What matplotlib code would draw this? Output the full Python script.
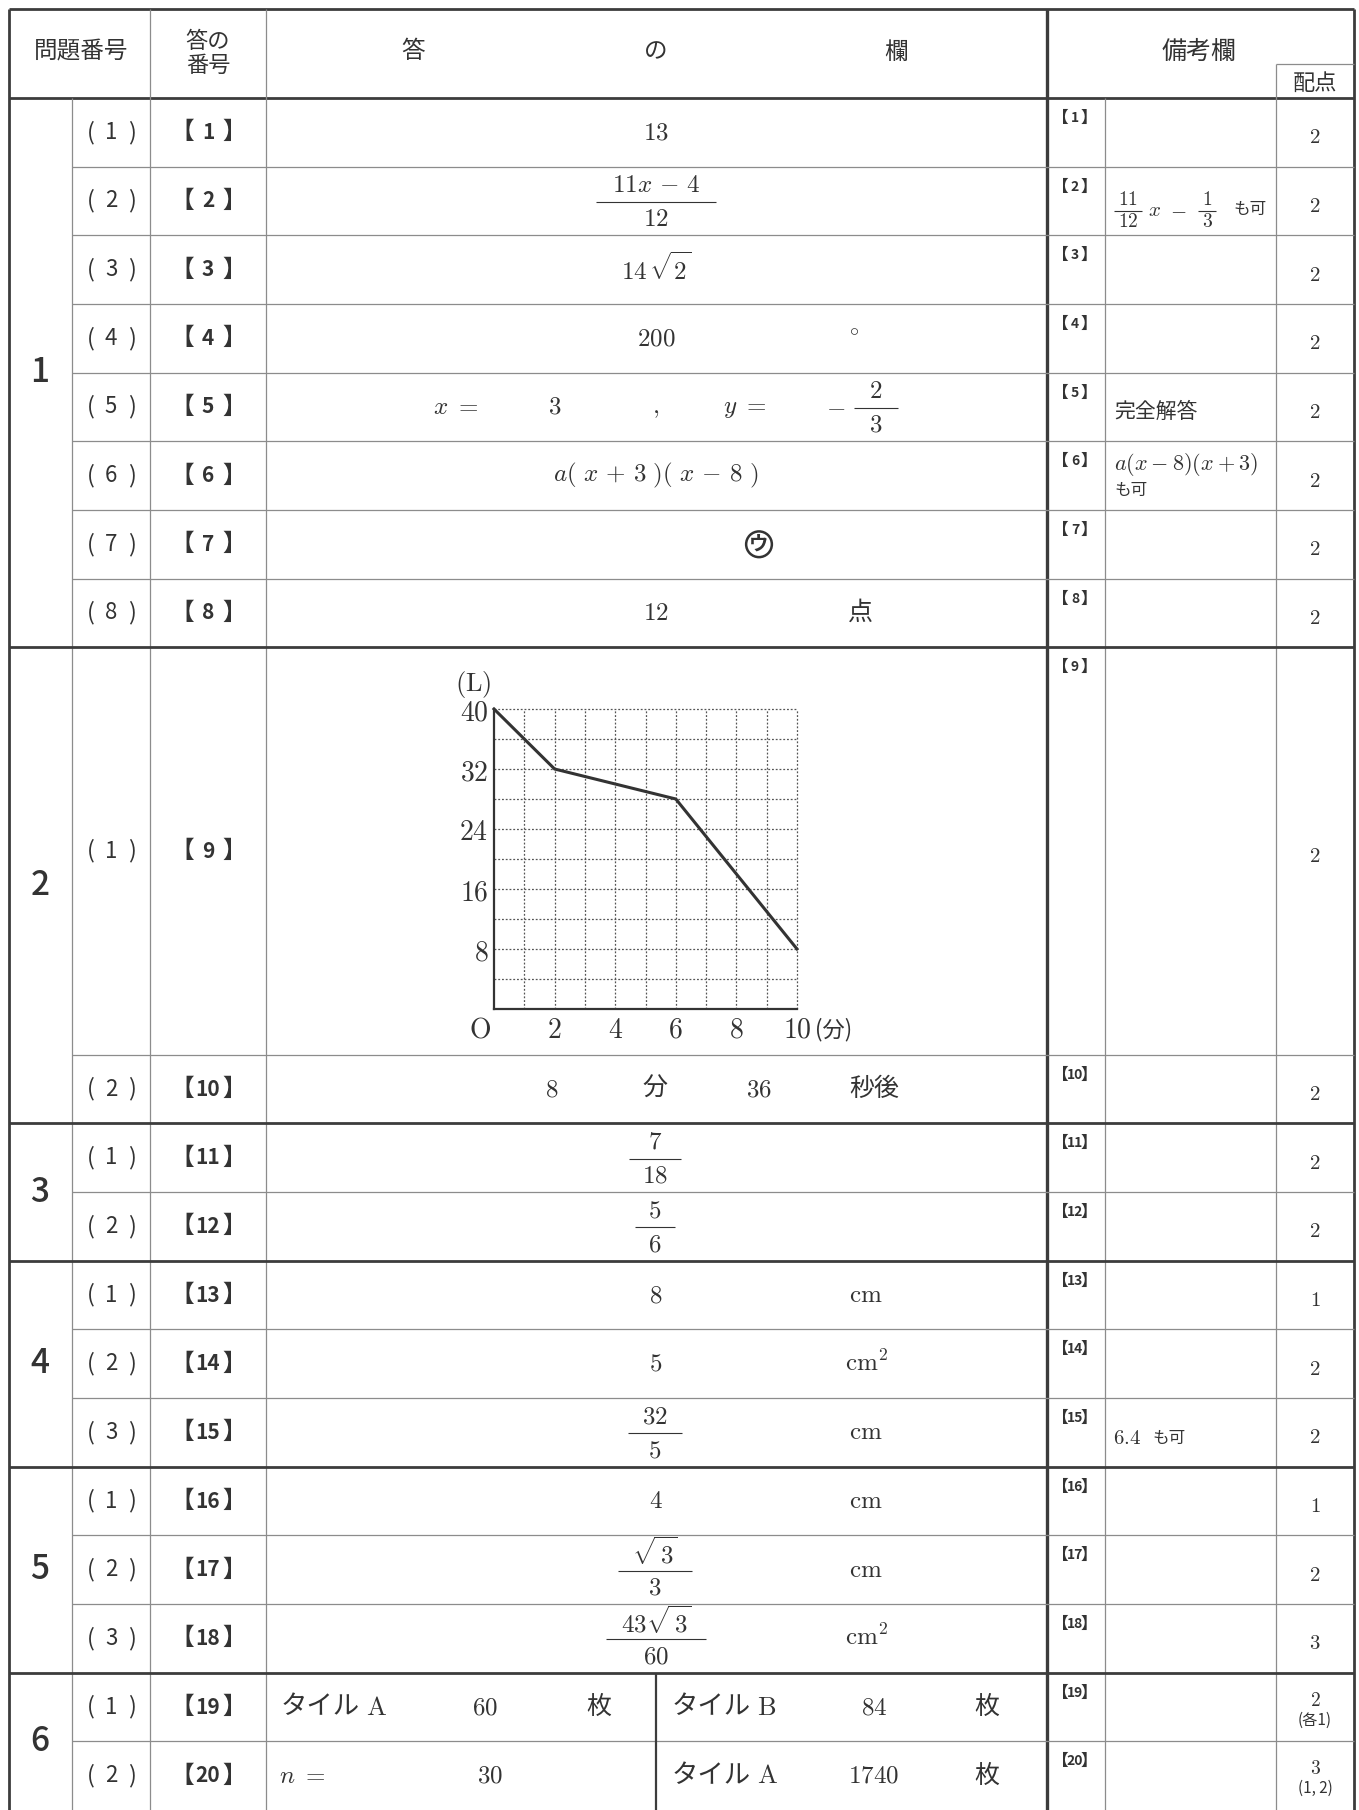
import numpy as np
import matplotlib
matplotlib.use('Agg')
import matplotlib.pyplot as plt

plt.rcParams['font.family'] = ['Noto Sans CJK JP', 'DejaVu Sans']
plt.rcParams['mathtext.fontset'] = 'cm'

W, H = 1359, 1810
INK = '#333333'
THIN = '#8c8c8c'

# ---- data -------------------------------------------------------------
section_names = ['1', '2', '3', '4', '5', '6']
section_rows = [8, 2, 2, 3, 3, 2]
sub_numbers = ['1', '2', '3', '4', '5', '6', '7', '8',
               '1', '2', '1', '2', '1', '2', '3', '1', '2', '3', '1', '2']
answer_ids = [str(i) for i in range(1, 21)]
points = ['2', '2', '2', '2', '2', '2', '2', '2',
          '2', '2', '2', '2', '1', '2', '2', '1', '2', '3', '2', '3']
point_notes = {18: '(各1)', 19: '(1, 2)'}

# answer column contents: (x, text) per row, row 8 is the graph
answers = [
    [(656, r'$13$')],
    [],
    [(656, r'$14\,\sqrt{2}$')],
    [(656, r'$200$')],
    [(456, r'$x\ =$'), (555, r'$3$'), (656, r'$,$'), (745, r'$y\ =$'),
     (836, r'$-$')],
    [(656, r'$a(\ x\,+\,3\ )(\ x\,-\,8\ )$')],
    [],
    [(656, r'$12$'), (860, '点')],
    [],
    [(552, r'$8$'), (655, '分'), (759, r'$36$'), (874, '秒後')],
    [],
    [],
    [(656, r'$8$'), (866, r'$\mathrm{cm}$')],
    [(656, r'$5$'), (866, r'$\mathrm{cm}^{2}$')],
    [(866, r'$\mathrm{cm}$')],
    [(656, r'$4$'), (866, r'$\mathrm{cm}$')],
    [(866, r'$\mathrm{cm}$')],
    [(866, r'$\mathrm{cm}^{2}$')],
    [(485, r'$60$'), (599, '枚'), (874, r'$84$'), (987, '枚')],
    [(490, r'$30$'), (874, r'$1740$'), (987, '枚')],
]
# (row, x, numerator, denominator, half bar width)
answer_fracs = [
    (1, 656, r'$11x\,-\,4$', r'$12$', 60),
    (4, 876, r'$2$', r'$3$', 22),
    (10, 655, r'$7$', r'$18$', 26),
    (11, 655, r'$5$', r'$6$', 20),
    (14, 655, r'$32$', r'$5$', 27),
    (16, 655, r'$\sqrt{\,3}$', r'$3$', 37),
    (17, 656, r'$43\sqrt{\,3}$', r'$60$', 50),
]
tile_labels = [(18, 281, 'A'), (18, 672, 'B'), (19, 672, 'A')]

# remarks: (row, x, dy, text, size)
remarks = [
    (1, 1155, 9, r'$x$', 15), (1, 1178, 9, r'$-$', 15),
    (1, 1233, 9, 'も可', 12),
    (4, 1114, 5, '完全解答', 15),
    (5, 1114, -11, r'$a(x-8)(x+3)$', 16),
    (5, 1114, 15, 'も可', 12),
    (14, 1113, 6, r'$6.4$', 15), (14, 1152, 6, 'も可', 12),
]
remark_fracs = [(1, 1128, r'$11$', r'$12$', 14), (1, 1207, r'$1$', r'$3$', 9)]

minutes = [0, 2, 6, 10]
liters = [40, 32, 28, 8]

# ---- layout -----------------------------------------------------------
TOP, HEAD = 9, 98
X_L, X_SUB, X_NUM, X_ANS = 9, 72, 150, 266
X_RMK, X_RMK2, X_PTS, X_R = 1047, 1105, 1276, 1354
CHART_H = 407.5
row_h = (H - HEAD - CHART_H) / 19
heights = [row_h] * 8 + [CHART_H] + [row_h] * 11
edges = np.concatenate([[HEAD], HEAD + np.cumsum(heights)])
centers = (edges[:-1] + edges[1:]) / 2

fig = plt.figure(figsize=(W / 100, H / 100), dpi=100)
ax = fig.add_axes([0, 0, 1, 1])
ax.set_xlim(0, W)
ax.set_ylim(H, 0)
ax.axis('off')

thick = dict(color='#3c3c3c', lw=2.0)
thin = dict(color=THIN, lw=0.9)


def txt(x, y, s, size, **kw):
    kw.setdefault('ha', 'center')
    ax.text(x, y, s, va='center', fontsize=size, color=INK, **kw)


def frac(x, y, num, den, hw, size, gap_up, gap_dn):
    txt(x, y - gap_up, num, size)
    txt(x, y + gap_dn, den, size)
    ax.hlines(y, x - hw, x + hw, color=INK, lw=0.8)


def bracket(x, y, label, size, bsize, dx):
    em = bsize * 100 / 72
    txt(x - dx - 0.2 * em, y, '【', bsize, fontweight='bold')
    txt(x, y, label, size, fontweight='bold')
    txt(x + dx + 0.2 * em, y, '】', bsize, fontweight='bold')


# outer frame and header
ax.hlines(TOP, X_L, X_R, **thick)
ax.vlines([X_L, X_R], TOP, H, **thick)
ax.hlines(HEAD, X_L, X_R, **thick)
ax.vlines(X_RMK, TOP, H, color='#3c3c3c', lw=2.4)
ax.vlines([X_NUM, X_ANS], TOP, H, **thin)
ax.vlines([X_SUB, X_RMK2], HEAD, H, **thin)
ax.vlines(X_PTS, 64, H, **thin)
ax.hlines(64, X_PTS, X_R, **thin)

section_ends = np.cumsum(section_rows)
for i in range(1, len(edges) - 1):
    if i in section_ends:
        ax.hlines(edges[i], X_L, X_R, **thick)
    else:
        ax.hlines(edges[i], X_SUB, X_R, **thin)
ax.vlines(656, edges[18], H, color='#3c3c3c', lw=1.6)

# header text
txt(81, 52, '問題番号', 17)
txt(208, 42, '答の', 16)
txt(208, 65, '番号', 16)
for x, s in [(413, '答'), (656, 'の'), (896, '欄')]:
    txt(x, 52, s, 17)
txt(1199, 52, '備考欄', 18)
txt(1315, 83, '配点', 16)

# section numbers
start = 0
for name, n in zip(section_names, section_rows):
    txt(40, (edges[start] + edges[start + n]) / 2, name, 24,
        fontweight='medium')
    start += n

# per-row columns
for i, yc in enumerate(centers):
    txt(91, yc, '(', 17)
    txt(111, yc, sub_numbers[i], 16)
    txt(132, yc, ')', 17)
    bracket(208, yc, answer_ids[i], 15, 17, 21)
    bracket(1075, edges[i] + 20, answer_ids[i], 10, 12, 11)
    for x, s in answers[i]:
        txt(x, yc, s, 18)
    if i in point_notes:
        txt(1315, yc - 7, r'$' + points[i] + '$', 14)
        txt(1315, yc + 13, point_notes[i], 11)
    else:
        txt(1315, yc + 5, r'$' + points[i] + '$', 15)

for row, x, num, den, hw in answer_fracs:
    frac(x, centers[row] + 1, num, den, hw, 18, 17, 17)
for row, x, dy, s, size in remarks:
    txt(x, centers[row] + dy, s, size, ha='left' if x < 1150 or
        s == 'も可' else 'center')
for row, x, num, den, hw in remark_fracs:
    frac(x, centers[row] + 10, num, den, hw, 14, 11, 11)

# degree sign and circled katakana
txt(854, centers[3] - 8, r'$\circ$', 13)
txt(759, centers[6], 'ウ', 14, fontweight='bold',
    bbox=dict(boxstyle='circle,pad=0.16', fc='none', ec=INK, lw=1.8))

for row, x, letter in tile_labels:
    txt(x, centers[row], 'タイル', 19, ha='left')
    txt(x + 95, centers[row], r'$\mathrm{' + letter + '}$', 19)
txt(302, centers[19], r'$n\ =$', 18)

# ---- graph in 2(1) ----------------------------------------------------
gx0, gx1, gy0, gy1 = 494, 797, 1009, 709
gax = fig.add_axes([gx0 / W, 1 - gy0 / H, (gx1 - gx0) / W, (gy0 - gy1) / H])
gax.set_xlim(0, 10)
gax.set_ylim(0, 40)
gax.patch.set_alpha(0)
gax.vlines(range(1, 11), 0, 40, colors='#555555', linestyles=(0, (1.5, 1.5)),
           lw=0.9, clip_on=False)
gax.hlines(range(4, 41, 4), 0, 10, colors='#555555',
           linestyles=(0, (1.5, 1.5)), lw=0.9, clip_on=False)
for side in ['top', 'right']:
    gax.spines[side].set_visible(False)
for side in ['left', 'bottom']:
    gax.spines[side].set_color('#333333')
    gax.spines[side].set_linewidth(1.6)
gax.plot(minutes, liters, color='#333333', lw=2.2, solid_joinstyle='miter',
         clip_on=False)
gax.set_xticks([2, 4, 6, 8, 10])
gax.set_xticklabels([r'$%d$' % v for v in [2, 4, 6, 8, 10]])
gax.set_yticks([8, 16, 24, 32, 40])
gax.set_yticklabels([r'$%d$' % v for v in [8, 16, 24, 32, 40]])
gax.tick_params(length=0, labelsize=20, labelcolor=INK, pad=4)
gax.annotate(r'$\mathrm{O}$', xy=(0, 0), xytext=(-10, -15),
             textcoords='offset points', ha='center', va='center',
             fontsize=20, color=INK, annotation_clip=False)
gax.annotate(r'$(\mathrm{L})$', xy=(0, 40), xytext=(-15, 18),
             textcoords='offset points', ha='center', va='center',
             fontsize=19, color=INK, annotation_clip=False)
gax.annotate('(分)', xy=(10, 0), xytext=(26, -15),
             textcoords='offset points', ha='center', va='center',
             fontsize=16, color=INK, annotation_clip=False)

fig.savefig('out.png', dpi=100)
